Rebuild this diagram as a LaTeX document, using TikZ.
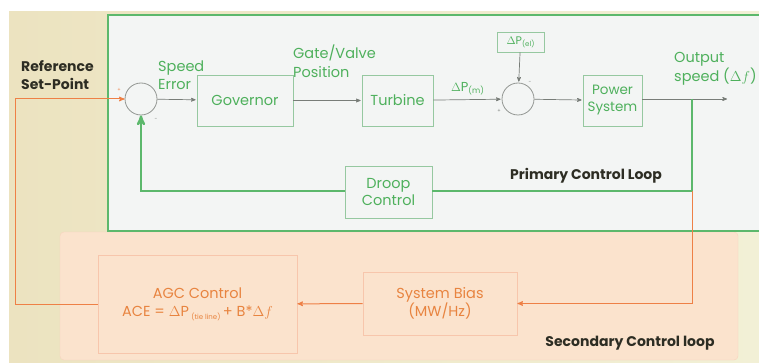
\documentclass[tikz,border=0pt]{standalone}
\usepackage{fontspec}
\setmainfont{Poppins}
\usepackage{tikz}
\usetikzlibrary{arrows}

\definecolor{loopgreen}{RGB}{92,184,108}
\definecolor{txtgreen}{RGB}{78,176,92}
\definecolor{boxedge}{RGB}{150,200,160}
\definecolor{lineorange}{RGB}{238,128,70}
\definecolor{txtorange}{RGB}{232,132,64}
\definecolor{peach}{RGB}{251,227,205}
\definecolor{cream}{RGB}{236,227,192}
\definecolor{creamlight}{RGB}{242,240,214}
\definecolor{panel}{RGB}{243,245,244}
\definecolor{sigline}{RGB}{120,125,120}
\definecolor{darktxt}{RGB}{45,45,35}

\begin{document}
\begin{tikzpicture}[x=1pt,y=-1pt,>=stealth',
    block/.style={draw=boxedge,line width=0.8pt,fill=panel,font=\fontsize{14.5}{17}\selectfont,text=txtgreen,align=center,inner sep=0pt},
    agcblock/.style={draw=lineorange!45,line width=0.8pt,fill=peach,font=\fontsize{14.5}{18}\selectfont,text=txtorange,align=center,inner sep=0pt},
    sum node/.style={circle,draw=sigline!80,line width=0.8pt,minimum size=32pt,inner sep=0pt},
    signal/.style={->,draw=sigline,line width=0.7pt,shorten >=1pt},
    label text/.style={font=\fontsize{14.5}{18.5}\selectfont,text=txtgreen,align=left,inner sep=0pt},
    loop text/.style={font=\fontsize{14}{18.5}\selectfont\bfseries,text=darktxt,align=left,inner sep=0pt}]

  \useasboundingbox (0,0) rectangle (759,363);

  % panels
  \shade[left color=cream,right color=creamlight] (9,12) rectangle (759,363);
  \filldraw[fill=peach,draw=lineorange!35,rounded corners=4pt] (60,232) rectangle (738,360);
  \filldraw[fill=panel,draw=loopgreen,line width=2pt] (108,15) rectangle (762,231);

  % blocks
  \node[sum node] (sum1) at (141,99) {};
  \node[block,minimum width=96pt,minimum height=51pt] (gov) at (245,100.5) {Governor};
  \node[block,minimum width=71pt,minimum height=51pt] (turb) at (397.5,100.5) {Turbine};
  \node[sum node] (sum2) at (518,99) {};
  \node[block,minimum width=47pt,minimum height=20pt,font=\fontsize{11}{12}\selectfont] (pel) at (520.5,42) {$\Delta$P\raisebox{-2pt}{\fontsize{7}{8}\selectfont(el)}};
  \node[block,minimum width=59pt,minimum height=51pt,font=\fontsize{13.5}{17}\selectfont] (psys) at (612.5,100.5) {Power\\System};
  \node[block,minimum width=87pt,minimum height=52pt] (droop) at (388.5,192) {Droop\\Control};
  \node[agcblock,minimum width=154pt,minimum height=63pt] (sbias) at (440,303.5) {System Bias\\(MW/Hz)};
  \node[agcblock,minimum width=199pt,minimum height=98pt] (agc) at (197.5,304) {AGC Control\\ACE = $\Delta$P\,\raisebox{-3pt}{\fontsize{7}{8}\selectfont(tie line)}\,+ B*$\Delta f$};

  \coordinate (out) at (728,99);
  \coordinate (branch) at (692,99);
  \coordinate (droopcorner) at (692,191);
  \coordinate (refcorner) at (15,99);

  % texts
  \node[loop text,anchor=west] (ref) at (21,75) {Reference\\Set-Point};
  \node[label text,anchor=west] (err) at (158,75) {Speed\\Error};
  \node[label text,anchor=west] (gate) at (293,61) {Gate/Valve\\Position};
  \node[label text,anchor=west] (outtxt) at (674,69) {Output\\speed ($\Delta f$)};
  \node[loop text] (prim) at (586,176) {Primary Control Loop};
  \node[loop text] (sec) at (630,343) {Secondary Control loop};
  \node[font=\tiny,text=lineorange] (p1) at (119,90) {+};
  \node[font=\tiny,text=sigline] (m1) at (156,119) {-};
  \node[font=\tiny,text=sigline] (p2) at (499,111) {+};
  \node[font=\tiny,text=sigline] (m2) at (530,82) {-};

  % signal paths
  \draw[signal] (sum1) -- (gov);
  \draw[signal] (gov) -- (turb);
  \draw[signal] (turb) -- node[above=1pt,font=\fontsize{13}{14}\selectfont,text=txtgreen] {$\Delta$P\raisebox{-2pt}{\fontsize{8}{9}\selectfont(m)}} (sum2);
  \draw[signal] (pel) -- (sum2);
  \draw[signal] (sum2) -- (psys);
  \draw[signal] (psys.east |- out) -- (out);

  % primary feedback
  \draw[loopgreen,line width=2.2pt] (branch) -- (droopcorner) -- (droop.east |- droopcorner);
  \draw[loopgreen,line width=2.2pt,->] (droop.west |- droopcorner) -| (sum1.south);

  % secondary loop
  \draw[lineorange,line width=1pt,->] (droopcorner) |- (sbias.east);
  \draw[lineorange,line width=1pt,->] (sbias) -- (agc);
  \draw[lineorange,line width=1pt,->] (agc.west) -| (refcorner) -- (sum1.west);
\end{tikzpicture}
\end{document}
